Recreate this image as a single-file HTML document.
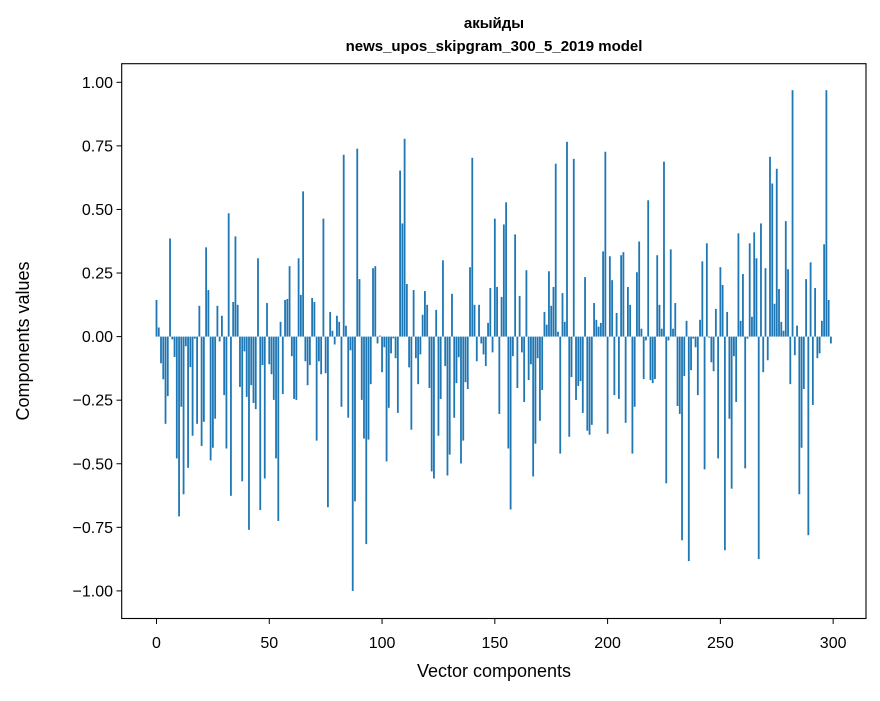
<!DOCTYPE html>
<html><head><meta charset="utf-8"><style>
body{margin:0;background:#fff;}
svg text{font-family:"Liberation Sans","DejaVu Sans",sans-serif;fill:#000;}
</style></head><body>
<svg id="chart" width="880" height="696" xmlns="http://www.w3.org/2000/svg">
<rect x="0" y="0" width="880" height="696" fill="#fff"/>
<text x="494" y="28" text-anchor="middle" font-size="15" font-weight="bold">акыйды</text>
<text x="494" y="51" text-anchor="middle" font-size="15" font-weight="bold">news_upos_skipgram_300_5_2019 model</text>
<g id="bars"></g>
<g id="axes"></g>
<rect x="121.7" y="63.7" width="744.3" height="554.8" fill="none" stroke="#000" stroke-width="1.1"/>
<text x="494" y="677" text-anchor="middle" font-size="18">Vector components</text>
<text transform="translate(29,341) rotate(-90)" text-anchor="middle" font-size="18">Components values</text>
</svg>
<script>
const values = [
0.144,0.036,-0.105,-0.168,-0.343,-0.234,0.386,-0.011,-0.08,-0.479,
-0.707,-0.276,-0.62,-0.038,-0.516,-0.12,-0.39,-0.008,-0.343,0.121,
-0.43,-0.335,0.351,0.183,-0.487,-0.437,-0.323,0.121,-0.019,0.082,
-0.23,-0.44,0.485,-0.626,0.136,0.394,0.125,-0.198,-0.569,-0.058,
-0.237,-0.76,-0.191,-0.261,-0.285,0.308,-0.682,-0.112,-0.558,0.132,
-0.109,-0.148,-0.249,-0.479,-0.725,0.058,-0.226,0.144,0.148,0.277,
-0.077,-0.245,-0.249,0.308,0.164,0.571,-0.097,-0.191,-0.112,0.152,
0.136,-0.409,-0.097,-0.148,0.464,-0.144,-0.671,0.097,0.023,-0.031,
0.082,0.058,-0.276,0.715,0.043,-0.319,-0.054,-1.0,-0.648,0.739,
0.226,-0.249,-0.401,-0.816,-0.405,-0.187,0.269,0.277,-0.027,0.004,
-0.14,-0.042,-0.491,-0.28,-0.066,-0.007,-0.085,-0.3,0.653,0.445,
0.778,0.207,-0.121,-0.366,0.183,-0.085,-0.187,-0.07,0.086,0.179,
0.125,-0.202,-0.53,-0.558,0.105,-0.39,-0.245,0.3,-0.116,-0.546,
-0.464,0.168,-0.319,-0.183,-0.081,-0.499,-0.409,-0.179,-0.206,0.273,
0.703,0.125,-0.097,0.125,-0.027,-0.07,-0.116,0.054,0.191,-0.062,
0.464,0.195,-0.304,0.156,0.441,0.528,-0.44,-0.68,-0.077,0.402,
-0.202,0.16,-0.062,-0.257,0.261,-0.171,-0.109,-0.55,-0.421,-0.085,
-0.331,-0.21,0.097,0.047,0.257,0.121,0.195,0.68,0.019,-0.46,
0.171,0.058,0.766,-0.394,-0.159,0.699,-0.249,-0.194,-0.175,-0.3,
0.234,-0.37,-0.386,-0.347,0.132,0.066,0.039,0.054,0.335,0.727,
-0.382,0.316,0.222,-0.23,0.093,-0.245,0.32,0.332,-0.339,0.195,
0.125,-0.46,-0.276,0.253,0.374,0.031,-0.167,-0.015,0.536,-0.171,
-0.183,-0.167,0.32,0.125,0.031,0.688,-0.577,-0.015,0.343,0.031,
0.132,-0.273,-0.304,-0.801,-0.155,0.062,-0.883,-0.132,-0.008,-0.042,
-0.23,0.066,0.296,-0.522,0.367,-0.004,-0.101,-0.136,0.109,-0.479,
0.273,0.203,-0.84,0.097,-0.323,-0.598,-0.077,-0.257,0.406,0.062,
0.246,-0.518,-0.008,0.367,0.078,0.41,0.308,-0.875,0.445,-0.14,
0.269,-0.093,0.707,0.602,0.129,0.66,0.187,0.058,0.023,0.454,
0.265,-0.187,0.969,-0.073,0.043,-0.62,-0.437,-0.206,0.226,-0.781,
0.292,-0.269,0.191,-0.085,-0.066,0.062,0.363,0.969,0.144,-0.027
];
const xTicks = [0,50,100,150,200,250,300];
const yTicks = [1.0,0.75,0.5,0.25,0.0,-0.25,-0.5,-0.75,-1.0];
const yTickLabels = ["1.00","0.75","0.50","0.25","0.00","\u22120.25","\u22120.50","\u22120.75","\u22121.00"];

const NS="http://www.w3.org/2000/svg";
function xScale(i){return 156.5 + i*2.2555;}
function yScale(v){return 336.6 - v*254.3;}
const bars=document.getElementById('bars');
values.forEach((v,i)=>{
  const r=document.createElementNS(NS,'rect');
  const y0=yScale(0), y1=yScale(v);
  r.setAttribute('x',xScale(i)-0.9);
  r.setAttribute('width',1.8);
  r.setAttribute('y',Math.min(y0,y1));
  r.setAttribute('height',Math.max(Math.abs(y1-y0),0.3));
  r.setAttribute('fill','#1f77b4');
  
  
  bars.appendChild(r);
});
const axes=document.getElementById('axes');
xTicks.forEach(t=>{
  const x=xScale(t);
  const l=document.createElementNS(NS,'line');
  l.setAttribute('x1',x);l.setAttribute('x2',x);l.setAttribute('y1',618.5);l.setAttribute('y2',624);
  l.setAttribute('stroke','#000');l.setAttribute('stroke-width','1');
  
  
  axes.appendChild(l);
  const tx=document.createElementNS(NS,'text');
  tx.setAttribute('x',x);tx.setAttribute('y',648);tx.setAttribute('text-anchor','middle');tx.setAttribute('font-size','16');
  tx.textContent=String(t);
  
  
  axes.appendChild(tx);
});
yTicks.forEach((t,k)=>{
  const y=yScale(t);
  const l=document.createElementNS(NS,'line');
  l.setAttribute('x1',116.5);l.setAttribute('x2',121.7);l.setAttribute('y1',y);l.setAttribute('y2',y);
  l.setAttribute('stroke','#000');l.setAttribute('stroke-width','1');
  
  
  axes.appendChild(l);
  const tx=document.createElementNS(NS,'text');
  tx.setAttribute('x',113);tx.setAttribute('y',y+5.5);tx.setAttribute('text-anchor','end');tx.setAttribute('font-size','16');
  tx.textContent=yTickLabels[k];
  
  
  axes.appendChild(tx);
});
</script>
</body></html>
